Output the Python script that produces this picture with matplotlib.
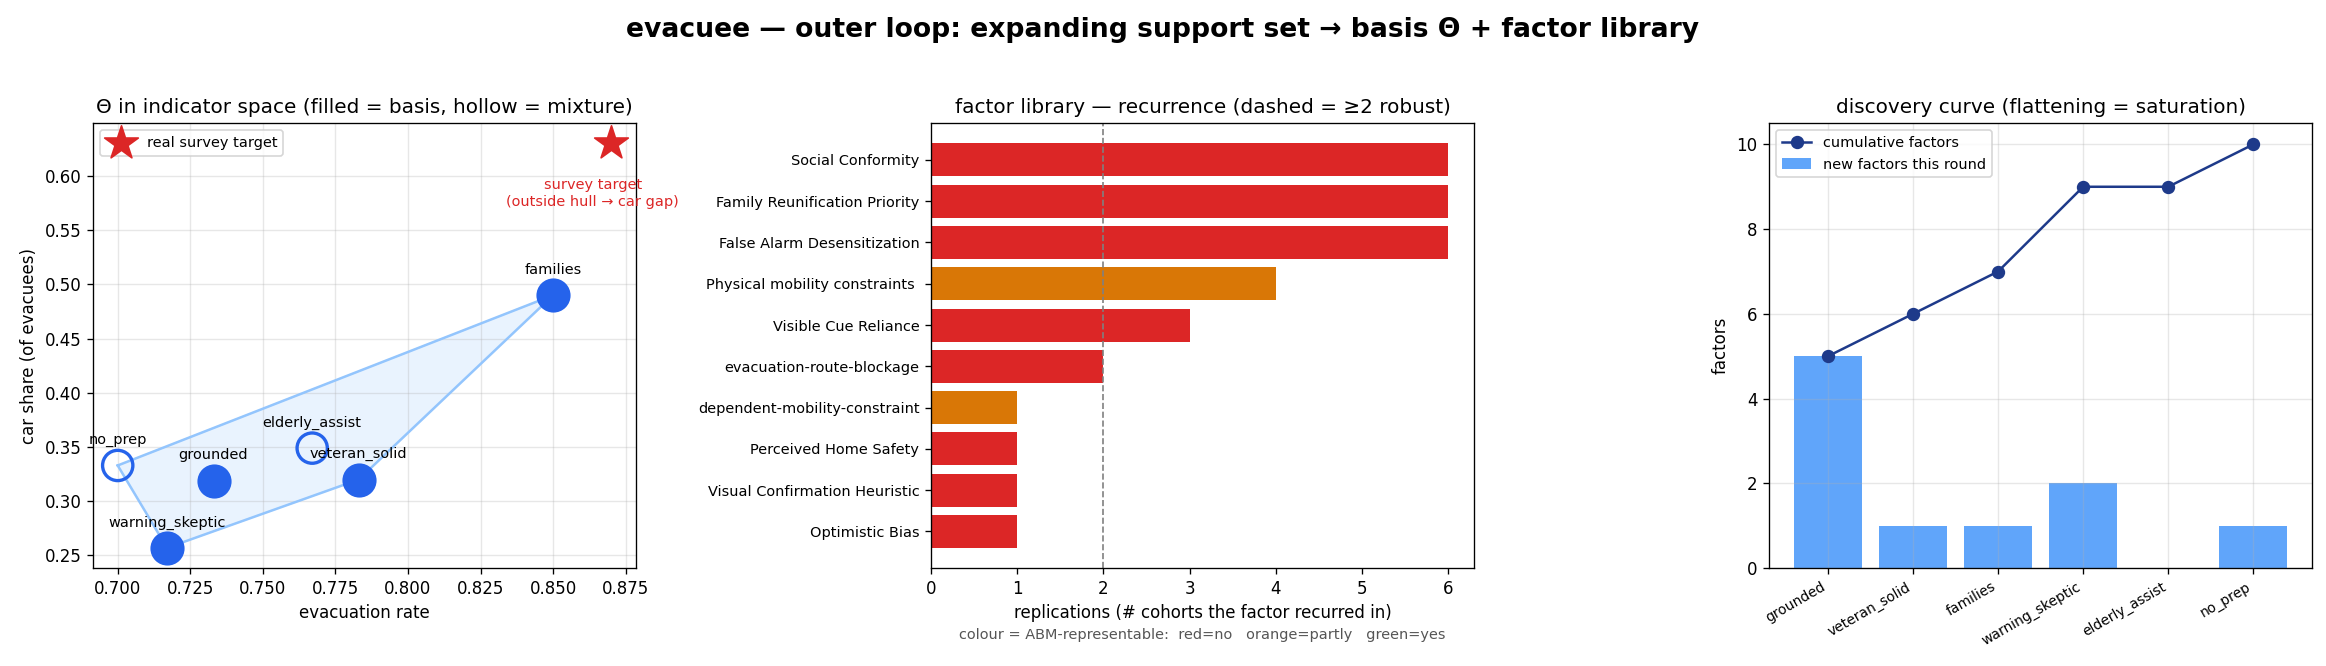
import numpy as np
import matplotlib
matplotlib.use("Agg")
import matplotlib.pyplot as plt

# --- panel 1: cohorts in indicator space
cohorts = ["families", "no_prep", "grounded", "elderly_assist", "veteran_solid", "warning_skeptic"]
evac_rate = [0.850, 0.700, 0.733, 0.767, 0.783, 0.717]
car_share = [0.490, 0.333, 0.319, 0.349, 0.320, 0.257]
is_basis = [True, False, True, False, True, True]
target_evac = 0.870
target_car = 0.630

# --- panel 2: factor library
factors = ["Social Conformity", "Family Reunification Priority", "False Alarm Desensitization",
           "Physical mobility constraints ", "Visible Cue Reliance", "evacuation-route-blockage",
           "dependent-mobility-constraint", "Perceived Home Safety", "Visual Confirmation Heuristic",
           "Optimistic Bias"]
replications = [6, 6, 6, 4, 3, 2, 1, 1, 1, 1]
abm_repr = ["no", "no", "no", "partly", "no", "no", "partly", "no", "no", "no"]

# --- panel 3: discovery curve
rounds = ["grounded", "veteran_solid", "families", "warning_skeptic", "elderly_assist", "no_prep"]
new_factors = [5, 1, 1, 2, 0, 1]
cumulative = [5, 6, 7, 9, 9, 10]

REPR_COLORS = {"no": "#dc2626", "partly": "#d97706", "yes": "#16a34a"}
SMALL = 8.7


def convex_hull(pts):
    pts = sorted(set(pts))
    def cross(o, a, b):
        return (a[0] - o[0]) * (b[1] - o[1]) - (a[1] - o[1]) * (b[0] - o[0])
    lower, upper = [], []
    for p in pts:
        while len(lower) >= 2 and cross(lower[-2], lower[-1], p) <= 0:
            lower.pop()
        lower.append(p)
    for p in reversed(pts):
        while len(upper) >= 2 and cross(upper[-2], upper[-1], p) <= 0:
            upper.pop()
        upper.append(p)
    return lower[:-1] + upper[:-1]


dpi = 120
fig, axes = plt.subplots(1, 3, figsize=(2326 / dpi, 666 / dpi), dpi=dpi)
fig.subplots_adjust(left=0.040, right=0.994, bottom=0.147, top=0.815, wspace=0.544)
fig.suptitle("evacuee — outer loop: expanding support set → basis Θ + factor library",
             fontsize=16, fontweight="bold", y=0.975)

# panel 1
ax = axes[0]
hull = convex_hull(list(zip(evac_rate, car_share)))
hx = [p[0] for p in hull] + [hull[0][0]]
hy = [p[1] for p in hull] + [hull[0][1]]
ax.fill(hx, hy, color="#93c5fd", alpha=0.2, zorder=1)
ax.plot(hx, hy, color="#93c5fd", lw=1.5, zorder=2)
for name, x, y, b in zip(cohorts, evac_rate, car_share, is_basis):
    if b:
        ax.scatter(x, y, s=380, color="#2563eb", zorder=3)
    else:
        ax.scatter(x, y, s=330, facecolors="none", edgecolors="#2563eb", linewidths=2, zorder=3)
    ax.annotate(name, (x, y), xytext=(0, 11), textcoords="offset points",
                ha="center", va="bottom", fontsize=SMALL)
ax.scatter(target_evac, target_car, marker="*", s=450, color="#dc2626", zorder=4,
           label="real survey target")
ax.annotate("survey target\n(outside hull → car gap)", (target_evac, target_car),
            xytext=(-11, -21), textcoords="offset points", ha="center", va="top",
            fontsize=SMALL, color="#dc2626")
ax.set_xlabel("evacuation rate")
ax.set_ylabel("car share (of evacuees)")
ax.set_title("Θ in indicator space (filled = basis, hollow = mixture)", fontsize=12)
ax.legend(loc="upper left", fontsize=SMALL)
ax.grid(alpha=0.3)

# panel 2
ax = axes[1]
ypos = np.arange(len(factors))[::-1]
ax.barh(ypos, replications, color=[REPR_COLORS[c] for c in abm_repr])
ax.set_yticks(ypos)
ax.set_yticklabels(factors, fontsize=SMALL)
ax.axvline(2, color="grey", ls="--", lw=1)
ax.set_xlabel("replications (# cohorts the factor recurred in)")
ax.set_title("factor library — recurrence (dashed = ≥2 robust)", fontsize=12)
ax.text(0.5, -0.15, "colour = ABM-representable:  red=no   orange=partly   green=yes",
        transform=ax.transAxes, ha="center", va="center", fontsize=SMALL, color="#555555")

# panel 3
ax = axes[2]
xpos = np.arange(len(rounds))
ax.bar(xpos, new_factors, color="#60a5fa", label="new factors this round")
ax.plot(xpos, cumulative, "o-", color="#1e3a8a", lw=1.5, ms=7, label="cumulative factors")
ax.set_xticks(xpos)
ax.set_xticklabels(rounds, rotation=30, ha="right", fontsize=8.3)
ax.set_ylabel("factors")
ax.set_title("discovery curve (flattening = saturation)", fontsize=12)
ax.legend(loc="upper left", fontsize=SMALL)
ax.grid(alpha=0.3)

fig.savefig("out.png", dpi=dpi)
